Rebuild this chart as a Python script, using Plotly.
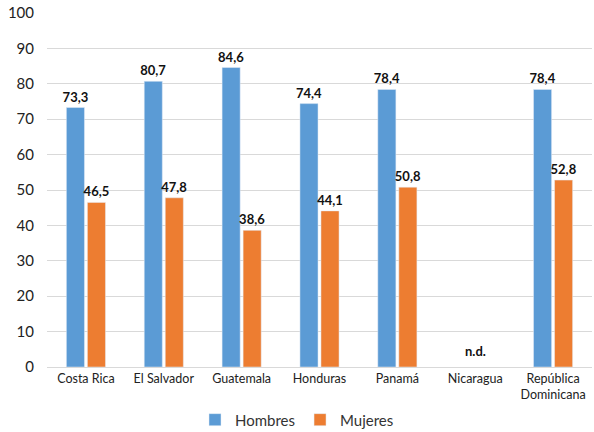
import plotly.graph_objects as go

categories = ["Costa Rica", "El Salvador", "Guatemala", "Honduras", "Panamá", "Nicaragua", "República<br>Dominicana"]
hombres = [73.3, 80.7, 84.6, 74.4, 78.4, None, 78.4]
mujeres = [46.5, 47.8, 38.6, 44.1, 50.8, None, 52.8]
y_ticks = [0, 10, 20, 30, 40, 50, 60, 70, 80, 90, 100]

def fmt(v):
    return "" if v is None else f"{v:.1f}".replace(".", ",")

FONT = "Lato, 'Open Sans', sans-serif"

fig = go.Figure()
fig.add_trace(go.Bar(name="Hombres", x=categories, y=hombres, marker_color="#5B9BD5",
                     text=[fmt(v) for v in hombres], textposition="outside",
                     textfont=dict(size=13, color="#111", family=FONT, weight="bold"),
                     cliponaxis=False))
fig.add_trace(go.Bar(name="Mujeres", x=categories, y=mujeres, marker_color="#ED7D31",
                     text=[fmt(v) for v in mujeres], textposition="outside",
                     textfont=dict(size=13, color="#111", family=FONT, weight="bold"),
                     cliponaxis=False))

fig.add_annotation(x="Nicaragua", y=0, yshift=16, text="<b>n.d.</b>", showarrow=False,
                   font=dict(size=13, color="#111", family=FONT))

fig.update_layout(
    width=594, height=432,
    margin=dict(l=47, r=2, t=13, b=65, autoexpand=False),
    paper_bgcolor="white", plot_bgcolor="white",
    barmode="group", bargap=0.46, bargroupgap=0.14,
    font=dict(family=FONT, color="#222"),
    uniformtext=dict(minsize=13, mode="show"),
    legend=dict(orientation="h", x=0.5, xanchor="center", xref="container",
                y=0.028, yanchor="middle", yref="container",
                font=dict(size=15, color="#333"), itemwidth=30, traceorder="normal"),
)
fig.update_yaxes(range=[0, 100], tickvals=y_ticks, showgrid=True, gridcolor="#D9D9D9",
                 zeroline=False, showline=False, tickfont=dict(size=15, color="#222"),
                 ticks="", ticklabelstandoff=12, automargin=False)
fig.update_xaxes(showline=True, linecolor="#D9D9D9", linewidth=1,
                 tickfont=dict(size=12.5, color="#222"), ticks="", automargin=False)

fig.write_html("out.html")
